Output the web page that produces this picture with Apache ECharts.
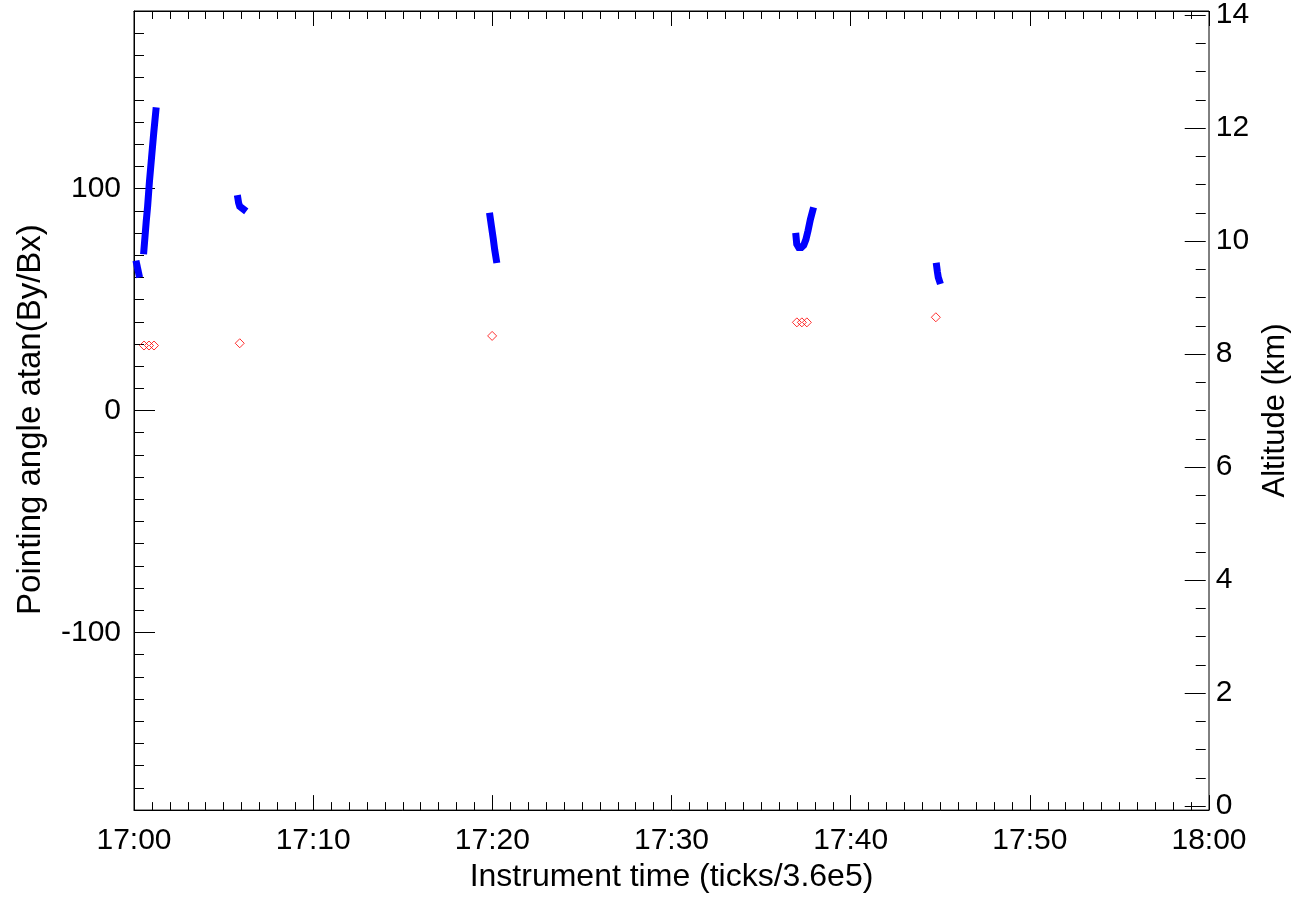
<!DOCTYPE html>
<html>
<head>
<meta charset="utf-8">
<script src="https://cdn.jsdelivr.net/npm/echarts@6/dist/echarts.min.js"></script>
<style>
html,body{margin:0;padding:0;background:#fff;}
#chart{width:1299px;height:898px;}
</style>
</head>
<body>
<div id="chart"></div>
<script>
// Time is in minutes after 17:00
var xTickLabels = ['17:00','17:10','17:20','17:30','17:40','17:50','18:00'];
var leftTickLabels = ['-100','0','100'];
var rightTickLabels = ['0','2','4','6','8','10','12','14'];

// Pointing angle (deg) segments: [minute, angle]
var angleSeg1a = [[0.15, 66], [0.27, 61.5]];
var angleSeg1b = [[0.55, 72], [0.62, 79], [0.68, 85], [0.72, 88.5], [0.76, 92], [0.86, 103], [0.98, 114], [1.10, 125], [1.22, 135]];
var angleSeg2 = [[5.80, 95.5], [5.84, 93.5], [5.90, 92], [5.98, 91.2], [6.11, 90.7]];
var angleSeg3 = [[19.87, 87.5], [19.95, 83], [20.05, 77.5], [20.13, 72.5], [20.22, 68]];
var angleSeg4 = [[36.95, 78.5], [36.99, 75], [37.10, 73.5], [37.25, 73.5], [37.38, 74.5], [37.50, 77], [37.62, 81], [37.75, 86], [37.88, 90]];
var angleSeg5 = [[44.80, 65], [44.84, 62.5], [44.89, 60], [44.95, 58.5]];

// Altitude (km): [minute, altitude]
var altitudePoints = [[0.56, 8.15], [0.84, 8.15], [1.12, 8.15], [5.92, 8.19], [20.05, 8.32], [37.11, 8.56], [37.39, 8.56], [37.67, 8.56], [44.89, 8.65]];

var FONT = "'Liberation Sans', Arial, Helvetica, sans-serif";
var chart = echarts.init(document.getElementById('chart'), null, {renderer: 'canvas'});

function fmtTime(v) {
  var idx = Math.round(v / 10);
  return xTickLabels[idx] || '';
}
function blueLine(data) {
  return {
    type: 'line', xAxisIndex: 0, yAxisIndex: 0, data: data,
    showSymbol: false, symbol: 'none', silent: true, animation: false,
    lineStyle: {color: '#0000ff', width: 7, cap: 'square', join: 'miter'}
  };
}

var option = {
  backgroundColor: '#ffffff',
  animation: false,
  textStyle: {fontFamily: FONT},
  grid: [
    {left: 134, top: 11, width: 1075, height: 800, show: true, borderColor: '#000', borderWidth: 1, backgroundColor: 'transparent'},
    {left: 134, top: 11, width: 1075, height: 795, show: false}
  ],
  xAxis: [
    {
      gridIndex: 0, type: 'value', min: 0, max: 60, interval: 10, position: 'bottom',
      axisLine: {show: true, onZero: false, lineStyle: {color: '#000', width: 1}},
      axisTick: {show: true, inside: true, length: 15, lineStyle: {color: '#000'}},
      minorTick: {show: true, splitNumber: 10, length: 8, lineStyle: {color: '#000'}},
      splitLine: {show: false}, minorSplitLine: {show: false},
      axisLabel: {show: true, margin: 16, fontSize: 30, color: '#000', fontFamily: FONT, formatter: fmtTime},
      name: 'Instrument time (ticks/3.6e5)', nameLocation: 'middle', nameGap: 47,
      nameTextStyle: {fontSize: 32, color: '#000', fontFamily: FONT}
    },
    {
      gridIndex: 0, type: 'value', min: 0, max: 60, interval: 10, position: 'top',
      axisLine: {show: true, onZero: false, lineStyle: {color: '#000', width: 1}},
      axisTick: {show: true, inside: true, length: 15, lineStyle: {color: '#000'}},
      minorTick: {show: true, splitNumber: 10, length: 8, lineStyle: {color: '#000'}},
      splitLine: {show: false}, minorSplitLine: {show: false},
      axisLabel: {show: false}
    },
    {
      gridIndex: 1, type: 'value', min: 0, max: 60, show: false,
      axisLine: {onZero: false}
    }
  ],
  yAxis: [
    {
      gridIndex: 0, type: 'value', min: -180, max: 180, interval: 10, position: 'left',
      axisLine: {show: true, onZero: false, lineStyle: {color: '#000', width: 1}},
      axisTick: {show: true, inside: true, length: 10, lineStyle: {color: '#000'}},
      splitLine: {show: false},
      axisLabel: {show: true, margin: 13, fontSize: 30, color: '#000', fontFamily: FONT,
        formatter: function (v) {
          var s = String(Math.round(v));
          return leftTickLabels.indexOf(s) >= 0 ? s : '';
        }},
      name: 'Pointing angle atan(By/Bx)', nameLocation: 'middle', nameGap: 87,
      nameTextStyle: {fontSize: 33, color: '#000', fontFamily: FONT, padding: [0, 18, 0, 0]}
    },
    {
      gridIndex: 0, type: 'value', min: -180, max: 180, position: 'left',
      axisLine: {show: false, onZero: false},
      axisTick: {show: true, inside: true, length: 21, customValues: [-100, 0, 100], lineStyle: {color: '#000'}},
      splitLine: {show: false},
      axisLabel: {show: false}
    },
    {
      gridIndex: 1, type: 'value', min: 0, max: 14, interval: 2, position: 'right',
      axisLine: {show: false, onZero: false},
      axisTick: {show: true, inside: true, length: 21, lineStyle: {color: '#000'}},
      minorTick: {show: true, splitNumber: 4, length: 10, lineStyle: {color: '#000'}},
      splitLine: {show: false}, minorSplitLine: {show: false},
      axisLabel: {show: true, margin: 10, fontSize: 30, color: '#000', fontFamily: FONT,
        formatter: function (v) {
          var s = String(Math.round(v));
          return rightTickLabels.indexOf(s) >= 0 ? s : '';
        }},
      name: 'Altitude (km)', nameLocation: 'middle', nameGap: 49,
      nameTextStyle: {fontSize: 31, color: '#000', fontFamily: FONT}
    }
  ],
  series: [
    blueLine(angleSeg1a),
    blueLine(angleSeg1b),
    blueLine(angleSeg2),
    blueLine(angleSeg3),
    blueLine(angleSeg4),
    blueLine(angleSeg5),
    {
      type: 'scatter', xAxisIndex: 2, yAxisIndex: 2, data: altitudePoints,
      symbol: 'diamond', symbolSize: 9, silent: true,
      itemStyle: {color: 'rgba(0,0,0,0)', borderColor: '#ff0000', borderWidth: 1}
    }
  ]
};
chart.setOption(option);
</script>
</body>
</html>
